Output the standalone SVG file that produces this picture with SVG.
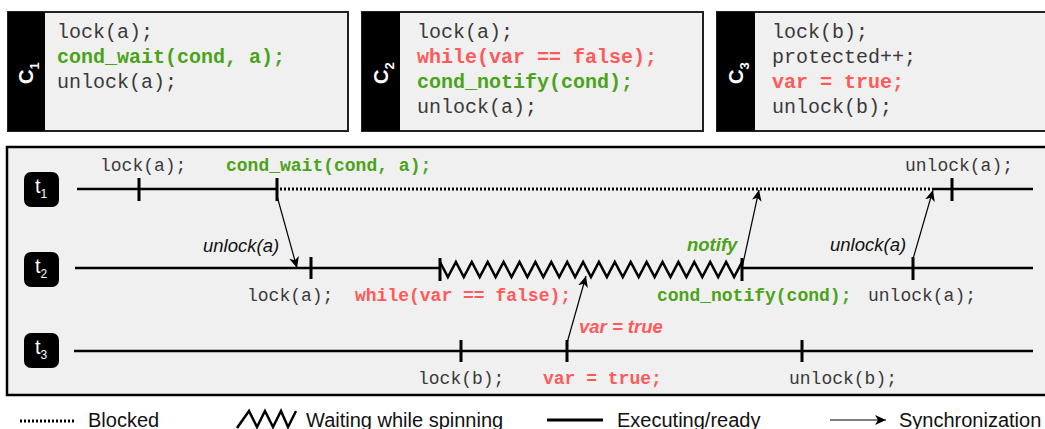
<svg xmlns="http://www.w3.org/2000/svg" width="1045" height="429" viewBox="0 0 1045 429">
<style>
.box{fill:#f0f0f0;stroke:#222;stroke-width:2}
.stripe{fill:#000}
.code{font-family:"Liberation Mono",monospace;font-size:20px;fill:#3a3a3a}
.tl{font-family:"Liberation Mono",monospace;font-size:18px;fill:#3a3a3a}
.lab{font-family:"Liberation Sans",Arial,sans-serif;font-weight:bold;font-size:20px;fill:#fff}
.it{font-family:"Liberation Sans",Arial,sans-serif;font-style:italic;font-size:18.5px;fill:#111}
.leg{font-family:"Liberation Sans",Arial,sans-serif;font-size:20px;fill:#111}
.b{font-weight:bold}
.g{fill:#4aa318}
.r{fill:#ff5a5a}
.line{stroke:#000;stroke-width:2.5;fill:none}
.tick{stroke:#000;stroke-width:3}
.dot{stroke:#000;stroke-width:3;stroke-dasharray:2 2;fill:none}
.sync{stroke:#000;stroke-width:1.2;fill:none;marker-end:url(#ah)}
</style>
<defs>
<marker id="ah" markerWidth="12" markerHeight="10" refX="11" refY="5" orient="auto" markerUnits="userSpaceOnUse">
<path d="M0,0 L11,5 L0,10 L3,5 z" fill="#000"/>
</marker>
</defs>

<g id="c1">
<rect class="box" x="8" y="12" width="340" height="119"/>
<rect class="stripe" x="8" y="12" width="37" height="119"/>
<text class="lab" transform="translate(33,84) rotate(-90)">C<tspan font-size="13" dy="6">1</tspan></text>
<text class="code" x="57" y="38">lock(a);</text>
<text class="code b g" x="57" y="63">cond_wait(cond, a);</text>
<text class="code" x="57" y="88">unlock(a);</text>
</g>

<g id="c2">
<rect class="box" x="362" y="12" width="341" height="119"/>
<rect class="stripe" x="362" y="12" width="38" height="119"/>
<text class="lab" transform="translate(388,84) rotate(-90)">C<tspan font-size="13" dy="6">2</tspan></text>
<text class="code" x="417" y="38">lock(a);</text>
<text class="code b r" x="417" y="63">while(var == false);</text>
<text class="code b g" x="417" y="88">cond_notify(cond);</text>
<text class="code" x="417" y="113">unlock(a);</text>
</g>

<g id="c3">
<rect class="box" x="717" y="12" width="340" height="119"/>
<rect class="stripe" x="717" y="12" width="38" height="119"/>
<text class="lab" transform="translate(743,84) rotate(-90)">C<tspan font-size="13" dy="6">3</tspan></text>
<text class="code" x="772" y="38">lock(b);</text>
<text class="code" x="772" y="63">protected++;</text>
<text class="code b r" x="772" y="88">var = true;</text>
<text class="code" x="772" y="113">unlock(b);</text>
</g>

<g id="timeline-frame">
<rect x="7" y="147" width="1045" height="248" fill="#f0f0f0" stroke="#000" stroke-width="2.5"/>
</g>

<g id="t1">
<rect x="24" y="172" width="35" height="35" rx="7" fill="#000"/>
<text x="35" y="193" font-family="Liberation Sans,Arial,sans-serif" font-size="20" fill="#fff">t<tspan font-size="12" dy="5">1</tspan></text>
<line class="line" x1="77" y1="189" x2="277" y2="189"/>
<line class="dot" x1="280" y1="189" x2="932" y2="189"/>
<line class="line" x1="932" y1="189" x2="1033" y2="189"/>
<line class="tick" x1="139" y1="178" x2="139" y2="201"/>
<line class="tick" x1="277" y1="178" x2="277" y2="201"/>
<line class="tick" x1="952" y1="178" x2="952" y2="201"/>
<text class="tl" x="100" y="171">lock(a);</text>
<text class="tl b g" x="226" y="171">cond_wait(cond, a);</text>
<text class="tl" x="905" y="171">unlock(a);</text>
</g>

<g id="t2">
<rect x="24" y="252" width="35" height="35" rx="7" fill="#000"/>
<text x="35" y="273" font-family="Liberation Sans,Arial,sans-serif" font-size="20" fill="#fff">t<tspan font-size="12" dy="5">2</tspan></text>
<line class="line" x1="75" y1="268" x2="440" y2="268"/>
<polyline class="line" points="440,262 447.9,277 455.9,262 463.8,277 471.8,262 479.7,277 487.7,262 495.6,277 503.6,262 511.5,277 519.5,262 527.4,277 535.4,262 543.3,277 551.3,262 559.2,277 567.2,262 575.1,277 583.1,262 591,277 598.9,262 606.9,277 614.8,262 622.8,277 630.7,262 638.7,277 646.6,262 654.6,277 662.5,262 670.5,277 678.4,262 686.4,277 694.3,262 702.3,277 710.2,262 718.2,277 726.1,262 734.1,277 742,262"/>
<line class="line" x1="742" y1="268" x2="1033" y2="268"/>
<line class="tick" x1="311" y1="257" x2="311" y2="279"/>
<line class="tick" x1="440" y1="258" x2="440" y2="281"/>
<line class="tick" x1="742" y1="258" x2="742" y2="281"/>
<line class="tick" x1="913" y1="257" x2="913" y2="280"/>
<text class="tl" x="247" y="301">lock(a);</text>
<text class="tl b r" x="355" y="301">while(var == false);</text>
<text class="tl b g" x="657" y="301">cond_notify(cond);</text>
<text class="tl" x="868" y="301">unlock(a);</text>
</g>

<g id="t3">
<rect x="24" y="333" width="35" height="35" rx="7" fill="#000"/>
<text x="35" y="354" font-family="Liberation Sans,Arial,sans-serif" font-size="20" fill="#fff">t<tspan font-size="12" dy="5">3</tspan></text>
<line class="line" x1="74" y1="351" x2="1033" y2="351"/>
<line class="tick" x1="461" y1="340" x2="461" y2="362"/>
<line class="tick" x1="567" y1="340" x2="567" y2="362"/>
<line class="tick" x1="802" y1="340" x2="802" y2="362"/>
<text class="tl" x="418" y="384">lock(b);</text>
<text class="tl b r" x="543" y="384">var = true;</text>
<text class="tl" x="789" y="384">unlock(b);</text>
</g>

<g id="connectors">
<line class="sync" x1="277" y1="196" x2="297" y2="268"/>
<line class="sync" x1="742" y1="268" x2="759" y2="190"/>
<line class="sync" x1="913" y1="259" x2="933" y2="190"/>
<line class="sync" x1="567" y1="343" x2="586" y2="276"/>
<text class="it" x="203" y="252">unlock(a)</text>
<text class="it b g" x="687" y="251">notify</text>
<text class="it" x="830" y="251">unlock(a)</text>
<text class="it b r" x="579" y="333">var = true</text>
</g>

<g id="legend">
<line x1="20" y1="421" x2="75" y2="421" stroke="#000" stroke-width="3" stroke-dasharray="2 2"/>
<text class="leg" x="88" y="427">Blocked</text>
<polyline points="237,428 249,411 257,427 265,411 273,427 281,411 288,427 296,411" fill="none" stroke="#000" stroke-width="2.5"/>
<text class="leg" x="306" y="427">Waiting while spinning</text>
<line x1="547" y1="420" x2="603" y2="420" stroke="#000" stroke-width="3"/>
<text class="leg" x="617" y="427">Executing/ready</text>
<line class="sync" x1="830" y1="420" x2="886" y2="420"/>
<text class="leg" x="899" y="427">Synchronization</text>
</g>
</svg>
